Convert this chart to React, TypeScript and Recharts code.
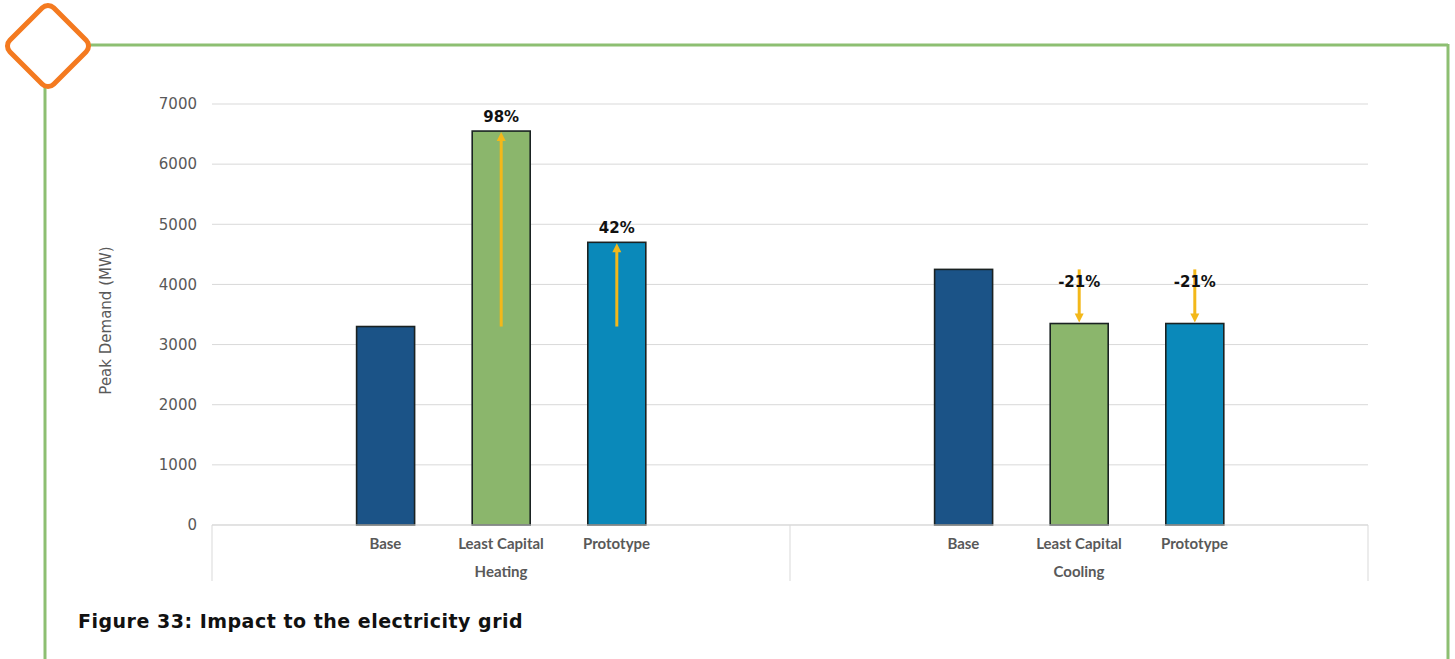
import React from 'react';
import {BarChart, Bar, XAxis, YAxis, CartesianGrid, Label} from 'recharts';

const groups = ['Heating', 'Cooling'];
const scenarios = ['Base', 'Least Capital', 'Prototype'];
const heatingValues = [3300, 6550, 4700];
const coolingValues = [4250, 3350, 3350];
const heatingChange = ['', '98%', '42%'];
const coolingChange = ['', '-21%', '-21%'];
const yTicks = [0, 1000, 2000, 3000, 4000, 5000, 6000, 7000];
const scenarioColors = ['#1b5387', '#8bb66c', '#0a89ba'];

const groupValues = [heatingValues, coolingValues];
const groupChanges = [heatingChange, coolingChange];

type Row = {
    key: string;
    name: string;
    group: string;
    value: number | null;
    color: string;
    arrowFrom: number | null;
    change: string;
    slot: number;
};

// every group gets an empty slot on each side, like the Excel original
const data: Row[] = [];
groups.forEach((g, gi) => {
    const vals = groupValues[gi];
    data.push({key: g + '-pad0', name: '', group: g, value: null, color: '', arrowFrom: null, change: '', slot: 0});
    scenarios.forEach((s, si) => {
        data.push({
            key: g + '-' + s,
            name: s,
            group: g,
            value: vals[si],
            color: scenarioColors[si],
            arrowFrom: si === 0 ? null : vals[0],
            change: groupChanges[gi][si],
            slot: si + 1,
        });
    });
    data.push({key: g + '-pad1', name: '', group: g, value: null, color: '', arrowFrom: null, change: '', slot: 4});
});

const ARROW = '#f3b81a';
const AXIS_GRAY = '#d9d9d9';
const CAT_FONT = 'Lato';

const BarShape = (props: any) => {
    const {x, y, width, height, payload} = props;
    if (!payload || payload.value == null) return null;
    const cx = x + width / 2;
    const perUnit = height / payload.value;
    const bottom = y + height;
    const parts: React.ReactNode[] = [
        <rect key="r" x={x} y={y} width={width} height={height} fill={payload.color} stroke="#1a2222" strokeWidth={1.6}/>,
    ];
    if (payload.arrowFrom != null) {
        const fromY = bottom - payload.arrowFrom * perUnit;
        const up = fromY > y;
        if (up) {
            parts.push(<line key="l" x1={cx} y1={fromY} x2={cx} y2={y + 8} stroke={ARROW} strokeWidth={3}/>);
            parts.push(<polygon key="p" points={`${cx - 4.5},${y + 10} ${cx + 4.5},${y + 10} ${cx},${y + 1}`} fill={ARROW}/>);
            parts.push(
                <text key="t" x={cx} y={y - 9} textAnchor="middle" fontFamily="DejaVu Sans" fontWeight="bold"
                      fontSize={15} fill="#111">{payload.change}</text>
            );
        } else {
            parts.push(<line key="l" x1={cx} y1={fromY} x2={cx} y2={y - 8} stroke={ARROW} strokeWidth={3}/>);
            parts.push(<polygon key="p" points={`${cx - 4.5},${y - 10} ${cx + 4.5},${y - 10} ${cx},${y - 1}`} fill={ARROW}/>);
            parts.push(
                <text key="t" x={cx} y={fromY + 18} textAnchor="middle" fontFamily="DejaVu Sans" fontWeight="bold"
                      fontSize={15} fill="#111">{payload.change}</text>
            );
        }
    }
    return <g>{parts}</g>;
};

const CategoryTick = (props: any) => {
    const {x, y, payload} = props;
    const row = data[payload.index];
    if (!row) return null;
    const half = payload.offset || 57.8;
    return (
        <g>
            {row.name && (
                <text x={x} y={y + 24} textAnchor="middle" fontFamily={CAT_FONT} fontWeight="bold"
                      fontSize={15} fill="#595959">{row.name}</text>
            )}
            {row.slot === 2 && (
                <text x={x} y={y + 52} textAnchor="middle" fontFamily={CAT_FONT} fontWeight="bold"
                      fontSize={15} fill="#595959">{row.group}</text>
            )}
            {row.slot === 0 && (
                <line x1={x - half} y1={y} x2={x - half} y2={y + 56} stroke={AXIS_GRAY}/>
            )}
            {payload.index === data.length - 1 && (
                <line x1={x + half} y1={y} x2={x + half} y2={y + 56} stroke={AXIS_GRAY}/>
            )}
        </g>
    );
};

const YLabel = (props: any) => {
    const {viewBox} = props;
    const cy = viewBox.y + viewBox.height / 2 + 6;
    const cx = 106;
    return (
        <text x={cx} y={cy} transform={`rotate(-90 ${cx} ${cy})`} textAnchor="middle" dominantBaseline="central"
              fontFamily="DejaVu Sans" fontSize={15} fill="#595959">Peak Demand (MW)</text>
    );
};

export default function App() {
    return (
        <div style={{position: 'absolute', left: 0, top: 0, width: 1455, height: 659, background: '#fff', overflow: 'hidden'}}>
            <svg width={1455} height={659} style={{position: 'absolute', left: 0, top: 0}}>
                <line x1={90} y1={45} x2={1448} y2={45} stroke="#8dbf72" strokeWidth={3}/>
                <line x1={1448} y1={44} x2={1448} y2={659} stroke="#8dbf72" strokeWidth={3}/>
                <line x1={45} y1={88} x2={45} y2={659} stroke="#8dbf72" strokeWidth={3}/>
                <rect x={17} y={15} width={62} height={62} rx={8} fill="#fff" stroke="#f47a20" strokeWidth={5}
                      transform="rotate(45 48 46)"/>
            </svg>
            <div style={{position: 'absolute', left: 0, top: 0}}>
                <BarChart width={1455} height={659} data={data}
                          margin={{top: 104, right: 87, bottom: 74, left: 152}}
                          barSize={58}
                >
                    <CartesianGrid vertical={false} stroke={AXIS_GRAY}/>
                    <XAxis dataKey="key" interval={0} tickLine={false} tickSize={0} tickMargin={0}
                           axisLine={{stroke: AXIS_GRAY}} height={60} tick={<CategoryTick/>}/>
                    <YAxis domain={[0, 7000]} ticks={yTicks} width={60} axisLine={false} tickLine={false}
                           tickSize={8} tickMargin={7}
                           tick={{fontFamily: 'DejaVu Sans', fontSize: 15, fill: '#595959'}}>
                        <Label content={<YLabel/>}/>
                    </YAxis>
                    <Bar dataKey="value" isAnimationActive={false} shape={<BarShape/>}/>
                </BarChart>
            </div>
            <div style={{
                position: 'absolute', left: 78, top: 610, fontFamily: 'DejaVu Sans', fontWeight: 'bold',
                fontSize: 19, letterSpacing: 0.5, color: '#111', whiteSpace: 'nowrap'
            }}>
                Figure 33: Impact to the electricity grid
            </div>
        </div>
    );
}
